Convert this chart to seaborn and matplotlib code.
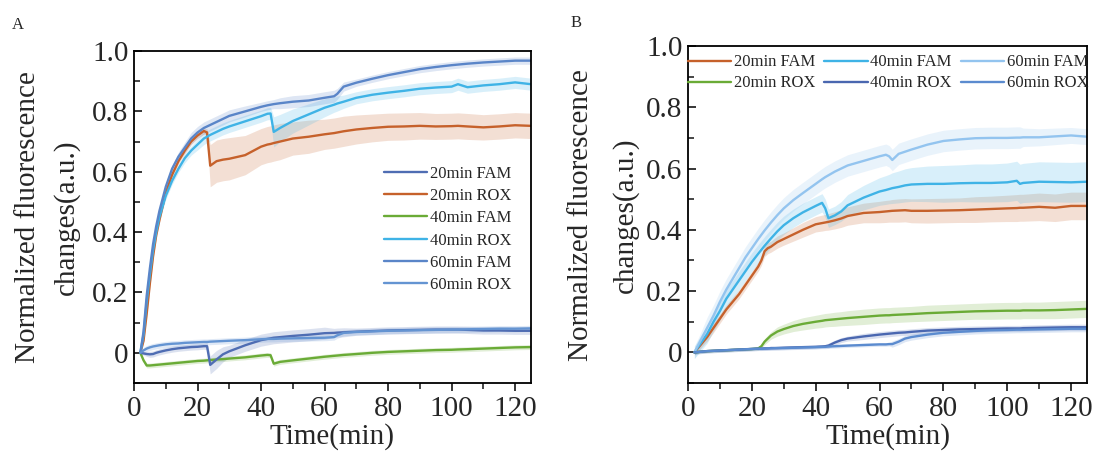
import numpy as np
import matplotlib
matplotlib.use("Agg")
import matplotlib.pyplot as plt
import seaborn as sns
from matplotlib.ticker import MultipleLocator, FuncFormatter

# ---------------- data: panel A ----------------
tA = [2, 3, 4, 5, 6, 7, 8, 10, 12, 14, 16, 18, 20, 22, 23, 24, 26, 28, 30, 35, 40, 42, 43, 44,
      46, 50, 55, 60, 63, 64, 66, 70, 75, 80, 85, 90, 95, 100, 102, 105, 110, 115, 120, 125]

A_20FAM = [0, -0.002, -0.004, -0.005, -0.004, 0.0, 0.003, 0.008, 0.012, 0.015, 0.017, 0.019, 0.020, 0.022, 0.022, -0.040,
           -0.022, -0.005, 0.005, 0.025, 0.042, 0.046, 0.048, 0.050, 0.052, 0.056, 0.060, 0.065, 0.066, 0.067, 0.068,
           0.070, 0.072, 0.074, 0.075, 0.076, 0.077, 0.077, 0.077, 0.076, 0.074, 0.074, 0.073, 0.073]
A_20FAM_sd = [0.004, 0.006, 0.008, 0.01, 0.01, 0.01, 0.01, 0.01, 0.01, 0.01, 0.01, 0.01, 0.01, 0.01, 0.012, 0.03,
              0.03, 0.025, 0.02, 0.02, 0.02, 0.02, 0.02, 0.02, 0.02, 0.02, 0.02, 0.02, 0.015, 0.015, 0.015,
              0.012, 0.012, 0.012, 0.012, 0.012, 0.012, 0.012, 0.012, 0.012, 0.012, 0.012, 0.012, 0.012]

A_20ROX = [0, 0.04, 0.13, 0.23, 0.32, 0.39, 0.44, 0.53, 0.59, 0.635, 0.67, 0.70, 0.72, 0.735, 0.73, 0.62,
           0.635, 0.64, 0.643, 0.655, 0.683, 0.69, 0.692, 0.695, 0.70, 0.71, 0.716, 0.724, 0.728, 0.730, 0.734,
           0.740, 0.745, 0.749, 0.750, 0.752, 0.750, 0.751, 0.752, 0.750, 0.747, 0.750, 0.754, 0.752]
A_20ROX_sd = [0.004, 0.008, 0.01, 0.01, 0.01, 0.01, 0.01, 0.01, 0.01, 0.01, 0.01, 0.01, 0.01, 0.01, 0.012, 0.07,
              0.07, 0.07, 0.07, 0.065, 0.06, 0.06, 0.06, 0.06, 0.06, 0.055, 0.055, 0.05, 0.05, 0.05, 0.05,
              0.048, 0.046, 0.045, 0.045, 0.044, 0.043, 0.043, 0.043, 0.043, 0.042, 0.042, 0.042, 0.042]

A_40FAM = [0, -0.025, -0.042, -0.042, -0.041, -0.040, -0.039, -0.037, -0.035, -0.033, -0.031, -0.029, -0.027, -0.026,
           -0.025, -0.024, -0.022, -0.021, -0.019, -0.015, -0.009, -0.007, -0.008, -0.036, -0.030, -0.025, -0.019,
           -0.013, -0.010, -0.009, -0.007, -0.004, 0.0, 0.003, 0.005, 0.007, 0.009, 0.010, 0.011, 0.012, 0.014,
           0.016, 0.018, 0.019]
A_40FAM_sd = [0.003] + [0.008] * 43

A_40ROX = [0, 0.06, 0.17, 0.26, 0.34, 0.40, 0.45, 0.52, 0.57, 0.61, 0.645, 0.67, 0.69, 0.71, 0.716, 0.722,
           0.732, 0.742, 0.75, 0.767, 0.784, 0.792, 0.793, 0.732, 0.745, 0.768, 0.79, 0.812, 0.822, 0.826, 0.832,
           0.845, 0.855, 0.862, 0.868, 0.875, 0.879, 0.882, 0.89, 0.88, 0.886, 0.89, 0.896, 0.89]
A_40ROX_sd = [0.004, 0.01, 0.012, 0.012, 0.012, 0.012, 0.012, 0.012, 0.012, 0.012, 0.015, 0.015, 0.018, 0.02, 0.02, 0.02,
              0.02, 0.02, 0.02, 0.02, 0.02, 0.02, 0.02, 0.05, 0.045, 0.04, 0.035, 0.03, 0.025, 0.025, 0.022,
              0.02, 0.02, 0.02, 0.02, 0.02, 0.02, 0.02, 0.02, 0.02, 0.02, 0.02, 0.02, 0.02]

A_60FAM = [0, 0.07, 0.19, 0.28, 0.36, 0.42, 0.47, 0.55, 0.61, 0.65, 0.68, 0.71, 0.73, 0.745, 0.75, 0.755,
           0.765, 0.775, 0.785, 0.80, 0.815, 0.82, 0.822, 0.824, 0.827, 0.832, 0.836, 0.845, 0.85, 0.858, 0.882,
           0.895, 0.908, 0.92, 0.93, 0.94, 0.947, 0.953, 0.955, 0.958, 0.962, 0.965, 0.968, 0.968]
A_60FAM_sd = [0.004, 0.01, 0.012, 0.012, 0.012, 0.012, 0.012, 0.012, 0.012, 0.015, 0.018, 0.02, 0.02, 0.02, 0.02, 0.02,
              0.02, 0.02, 0.02, 0.018, 0.015, 0.015, 0.015, 0.015, 0.018, 0.02, 0.02, 0.02, 0.02, 0.018, 0.015,
              0.012, 0.012, 0.012, 0.012, 0.012, 0.012, 0.012, 0.012, 0.012, 0.012, 0.012, 0.012, 0.012]

A_60ROX = [0, 0.008, 0.014, 0.018, 0.021, 0.023, 0.025, 0.028, 0.030, 0.031, 0.033, 0.034, 0.035, 0.036, 0.036, 0.037,
           0.038, 0.039, 0.040, 0.042, 0.045, 0.046, 0.046, 0.046, 0.047, 0.048, 0.049, 0.050, 0.052, 0.058, 0.066,
           0.069, 0.071, 0.073, 0.074, 0.075, 0.076, 0.077, 0.077, 0.078, 0.079, 0.080, 0.080, 0.081]
A_60ROX_sd = [0.003] + [0.01] * 43

# ---------------- data: panel B ----------------
tB = [2, 4, 6, 8, 10, 12, 14, 16, 18, 20, 22, 23, 24, 25, 26, 28, 30, 33, 36, 40, 42, 43, 44, 46, 48, 50,
      55, 60, 62, 63, 64, 66, 68, 70, 75, 80, 85, 90, 95, 100, 103, 104, 105, 110, 115, 120, 125]

B_20FAM = [0, 0.025, 0.05, 0.08, 0.11, 0.14, 0.165, 0.19, 0.22, 0.25, 0.28, 0.30, 0.33, 0.34, 0.345, 0.36, 0.37,
           0.385, 0.40, 0.418, 0.422, 0.424, 0.426, 0.431, 0.437, 0.445, 0.455, 0.458, 0.460, 0.461, 0.462, 0.463,
           0.464, 0.462, 0.462, 0.463, 0.464, 0.466, 0.468, 0.470, 0.471, 0.472, 0.472, 0.475, 0.472, 0.478, 0.478]
B_20FAM_sd = [0.01, 0.012, 0.014, 0.015, 0.015, 0.015, 0.015, 0.015, 0.015, 0.015, 0.015, 0.016, 0.017, 0.018, 0.018,
              0.02, 0.02, 0.022, 0.024, 0.025, 0.026, 0.026, 0.027, 0.028, 0.029, 0.03, 0.032, 0.035, 0.036, 0.036,
              0.037, 0.038, 0.038, 0.039, 0.04, 0.04, 0.04, 0.042, 0.042, 0.043, 0.044, 0.044, 0.044, 0.045, 0.045,
              0.045, 0.045]

B_40FAM = [0, 0.03, 0.06, 0.10, 0.135, 0.175, 0.205, 0.235, 0.265, 0.295, 0.322, 0.335, 0.348, 0.36, 0.372, 0.395,
           0.415, 0.438, 0.457, 0.478, 0.488, 0.47, 0.438, 0.447, 0.46, 0.48, 0.505, 0.525, 0.53, 0.533, 0.536, 0.54,
           0.545, 0.548, 0.55, 0.55, 0.552, 0.553, 0.553, 0.555, 0.56, 0.55, 0.553, 0.557, 0.556, 0.555, 0.557]
B_40FAM_sd = [0.02, 0.025, 0.03, 0.03, 0.03, 0.03, 0.03, 0.03, 0.03, 0.03, 0.03, 0.03, 0.03, 0.03, 0.03, 0.03, 0.03,
              0.03, 0.03, 0.03, 0.03, 0.03, 0.03, 0.03, 0.032, 0.035, 0.04, 0.045, 0.047, 0.048, 0.05, 0.052, 0.054,
              0.055, 0.058, 0.06, 0.06, 0.062, 0.062, 0.063, 0.064, 0.064, 0.064, 0.065, 0.065, 0.065, 0.065]

B_60FAM = [0, 0.04, 0.08, 0.12, 0.165, 0.205, 0.24, 0.275, 0.31, 0.34, 0.37, 0.384, 0.398, 0.411, 0.424, 0.448,
           0.47, 0.497, 0.52, 0.55, 0.565, 0.572, 0.578, 0.59, 0.60, 0.61, 0.625, 0.64, 0.645, 0.64, 0.628, 0.648,
           0.655, 0.662, 0.678, 0.69, 0.695, 0.699, 0.70, 0.70, 0.701, 0.701, 0.702, 0.702, 0.705, 0.708, 0.704]
B_60FAM_sd = [0.02, 0.025] + [0.035] * 40 + [0.03, 0.028, 0.027, 0.026, 0.026]

B_20ROX = [0, 0.002, 0.004, 0.005, 0.006, 0.007, 0.008, 0.009, 0.010, 0.011, 0.013, 0.02, 0.035, 0.045, 0.055,
           0.068, 0.076, 0.086, 0.093, 0.10, 0.103, 0.105, 0.106, 0.108, 0.11, 0.112, 0.116, 0.12, 0.121, 0.121,
           0.122, 0.123, 0.124, 0.125, 0.128, 0.13, 0.132, 0.134, 0.135, 0.136, 0.136, 0.136, 0.137, 0.137, 0.138,
           0.14, 0.142]
B_20ROX_sd = [0.004, 0.004, 0.004, 0.004, 0.004, 0.004, 0.004, 0.004, 0.004, 0.004, 0.005, 0.006, 0.01, 0.011, 0.012,
              0.015, 0.016, 0.018, 0.02, 0.021, 0.022, 0.022, 0.022, 0.023, 0.023, 0.024, 0.025, 0.025, 0.025, 0.025,
              0.025, 0.025, 0.025, 0.025, 0.026, 0.026, 0.026, 0.026, 0.027, 0.027, 0.027, 0.027, 0.027, 0.027, 0.028,
              0.028, 0.028]

B_40ROX = [0, 0.002, 0.004, 0.005, 0.006, 0.007, 0.008, 0.009, 0.010, 0.011, 0.012, 0.012, 0.013, 0.013, 0.014,
           0.014, 0.015, 0.016, 0.017, 0.018, 0.019, 0.02, 0.022, 0.032, 0.04, 0.045, 0.052, 0.058, 0.060, 0.061,
           0.062, 0.064, 0.065, 0.067, 0.071, 0.073, 0.075, 0.076, 0.077, 0.078, 0.078, 0.078, 0.079, 0.08, 0.081,
           0.082, 0.082]
B_40ROX_sd = [0.006] * 22 + [0.008] * 4 + [0.01] * 21

B_60ROX = [0, 0.002, 0.004, 0.005, 0.006, 0.007, 0.008, 0.009, 0.010, 0.011, 0.012, 0.012, 0.012, 0.013, 0.013,
           0.014, 0.014, 0.015, 0.016, 0.017, 0.018, 0.018, 0.019, 0.02, 0.021, 0.022, 0.024, 0.026, 0.026, 0.027,
           0.027, 0.035, 0.045, 0.05, 0.058, 0.064, 0.067, 0.07, 0.072, 0.073, 0.074, 0.074, 0.074, 0.075, 0.076,
           0.077, 0.077]
B_60ROX_sd = [0.006] * 30 + [0.01] * 17

labels = ["20min FAM", "20min ROX", "40min FAM", "40min ROX", "60min FAM", "60min ROX"]
xticks = [0, 20, 40, 60, 80, 100, 120]
yticks = [0, 0.2, 0.4, 0.6, 0.8, 1.0]

colorsA = ["#4f6db3", "#c6612b", "#6aab36", "#3fb3e6", "#5a85c8", "#6494d2"]
colorsB = ["#c6612b", "#6aab36", "#3fb3e6", "#4a67b0", "#93c4ef", "#5b8bcf"]

seriesA = [(A_20FAM, A_20FAM_sd), (A_20ROX, A_20ROX_sd), (A_40FAM, A_40FAM_sd),
           (A_40ROX, A_40ROX_sd), (A_60FAM, A_60FAM_sd), (A_60ROX, A_60ROX_sd)]
seriesB = [(B_20FAM, B_20FAM_sd), (B_20ROX, B_20ROX_sd), (B_40FAM, B_40FAM_sd),
           (B_40ROX, B_40ROX_sd), (B_60FAM, B_60FAM_sd), (B_60ROX, B_60ROX_sd)]

# ---------------- style ----------------
sns.set_style("ticks")
plt.rcParams["font.family"] = ["Liberation Serif", "DejaVu Serif"]
plt.rcParams["axes.linewidth"] = 1.3

fig = plt.figure(figsize=(10.94, 4.53), dpi=100)
axA = fig.add_axes([134 / 1094, (453 - 383) / 453, 397 / 1094, 332 / 453])
axB = fig.add_axes([688 / 1094, (453 - 383) / 453, 399 / 1094, 337 / 453])


def draw(ax, t, series, colors, labs, order):
    t = np.asarray(t, dtype=float)
    for i in order:
        (y, sd), c = series[i], colors[i]
        y = np.asarray(y, dtype=float)
        sd = np.asarray(sd, dtype=float)
        ax.fill_between(t, y - sd, y + sd, color=c, alpha=0.2, lw=0)
    handles = {}
    for i in order:
        (y, sd), c = series[i], colors[i]
        sns.lineplot(x=t, y=np.asarray(y, dtype=float), ax=ax, color=c, lw=1.7, legend=False)
        handles[i] = ax.lines[-1]
    return [handles[i] for i in range(len(series))]


def style(ax):
    ax.set_xlim(0, 125)
    ax.set_ylim(-0.1, 1.0)
    ax.set_xticks(xticks)
    ax.set_yticks(yticks)
    ax.xaxis.set_minor_locator(MultipleLocator(10))
    ax.yaxis.set_minor_locator(MultipleLocator(0.1))
    ax.yaxis.set_major_formatter(FuncFormatter(lambda v, p: "0" if abs(v) < 1e-9 else f"{v:.1f}"))
    ax.tick_params(axis="x", which="major", direction="out", length=6, width=1.3, labelsize=21, pad=3)
    ax.tick_params(axis="x", which="minor", direction="out", length=4, width=1.2)
    ax.tick_params(axis="y", which="major", direction="in", length=6, width=1.3, labelsize=21, pad=4)
    ax.tick_params(axis="y", which="minor", direction="in", length=4, width=1.2)
    for s in ax.spines.values():
        s.set_visible(True)
        s.set_linewidth(1.3)
        s.set_color("black")
    ax.set_xlabel("Time(min)", fontsize=21, labelpad=1)
    ax.set_ylabel("")


hA = draw(axA, tA, seriesA, colorsA, labels, [1, 3, 4, 2, 0, 5])
hB = draw(axB, tB, seriesB, colorsB, labels, [0, 2, 4, 1, 3, 5])
style(axA)
style(axB)

axA.legend(hA, labels, loc="upper left", bbox_to_anchor=(0.63, 0.655), frameon=False, fontsize=12,
           handlelength=2.6, handletextpad=0.15, labelspacing=0.38, borderpad=0, borderaxespad=0)
axB.legend(hB, labels, loc="upper left", bbox_to_anchor=(0.0, 0.975), frameon=False, fontsize=12, ncol=3,
           handlelength=2.6, handletextpad=0.15, labelspacing=0.3, columnspacing=0.55,
           borderpad=0, borderaxespad=0)

# y labels (two lines, placed like the original)
for x0, x1, yc in [(28, 66, 217), (581, 625, 215)]:
    fig.text(x0 / 1094, 1 - yc / 453, "Normalized fluorescence", rotation=90,
             ha="center", va="center", fontsize=21)
    fig.text(x1 / 1094, 1 - yc / 453, "changes(a.u.)", rotation=90,
             ha="center", va="center", fontsize=21)

fig.text(18 / 1094, 1 - 25 / 453, "A", fontsize=12, ha="center", va="center")
fig.text(576 / 1094, 1 - 23 / 453, "B", fontsize=12, ha="center", va="center")

fig.savefig("out.png", dpi=100)
